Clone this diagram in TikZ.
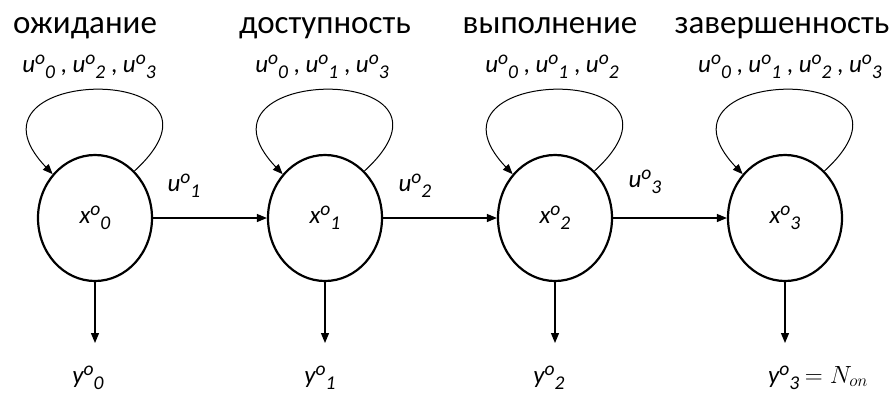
\documentclass[tikz,border=0pt]{standalone}
\usepackage{fontspec}
\setmainfont{Carlito}
\usetikzlibrary{arrows.meta,shapes.geometric}
\newcommand{\ov}[2]{\textit{#1\raisebox{0.62ex}{\scalebox{0.78}{o}}\raisebox{-0.55ex}{\scalebox{0.78}{#2}}}}

\begin{document}
\begin{tikzpicture}[x=1pt,y=-1pt,
state/.style={ellipse, draw, line width=2.2pt, minimum width=114pt, minimum height=126pt, inner sep=0pt, font=\fontsize{25}{28}\selectfont},
edge/.style={line width=1.2pt, -{Triangle[length=10pt,width=8pt]}},
selfedge/.style={line width=1pt, -{Triangle[length=10pt,width=8pt]}},
head/.style={font=\fontsize{33}{36}\selectfont, anchor=base},
act/.style={font=\fontsize{25}{28}\selectfont},
info/.style={draw=none,fill=none,inner sep=0pt}]

%% local variables
\def \hm {230}
\def \cy {218}

\useasboundingbox (0,0) rectangle (896,394);

%% place all states
\foreach \s in {0,...,3}
      \node[state] (S-\s) at ({95 + \s * \hm},\cy) {\ov{x}{\s}};

%% place titles
\node[info,head] (H-0) at (85,33) {ожидание};
\node[info,head] (H-1) at (325,33) {доступность};
\node[info,head] (H-2) at (550,33) {выполнение};
\node[info,head] (H-3) at (782,33) {завершенность};

%% place self-loop labels
\node[info,act] (A-0) at (89,67) {\ov{u}{0} , \ov{u}{2} , \ov{u}{3}};
\node[info,act] (A-1) at (322,67) {\ov{u}{0} , \ov{u}{1} , \ov{u}{3}};
\node[info,act] (A-2) at (552,67) {\ov{u}{0} , \ov{u}{1} , \ov{u}{2}};
\node[info,act] (A-3) at (790,67) {\ov{u}{0} , \ov{u}{1} , \ov{u}{2} , \ov{u}{3}};

%% place self-loops
\foreach \s in {0,...,3}
      \draw[selfedge] (S-\s.50) .. controls +(120,-110) and +(-105,-110) .. (S-\s.134);

%% place transitions
\foreach \a/\b in {0/1, 1/2, 2/3}
      \draw[edge] (S-\a) -- (S-\b);

\node[info,act] (E-1) at (184,186) {\ov{u}{1}};
\node[info,act] (E-2) at (415,186) {\ov{u}{2}};
\node[info,act] (E-3) at (645,182) {\ov{u}{3}};

%% place outputs
\foreach \s in {0,...,3} {
      \coordinate (T-\s) at ({95 + \s * \hm},343);
      \draw[edge] (S-\s) -- (T-\s);
}

\node[info,act] (Y-0) at (88,378) {\ov{y}{0}};
\node[info,act] (Y-1) at (320,378) {\ov{y}{1}};
\node[info,act] (Y-2) at (549,378) {\ov{y}{2}};
\node[info,act,anchor=west] (Y-3) at (768,378) {\ov{y}{3} $=N_{on}$};

\end{tikzpicture}
\end{document}
